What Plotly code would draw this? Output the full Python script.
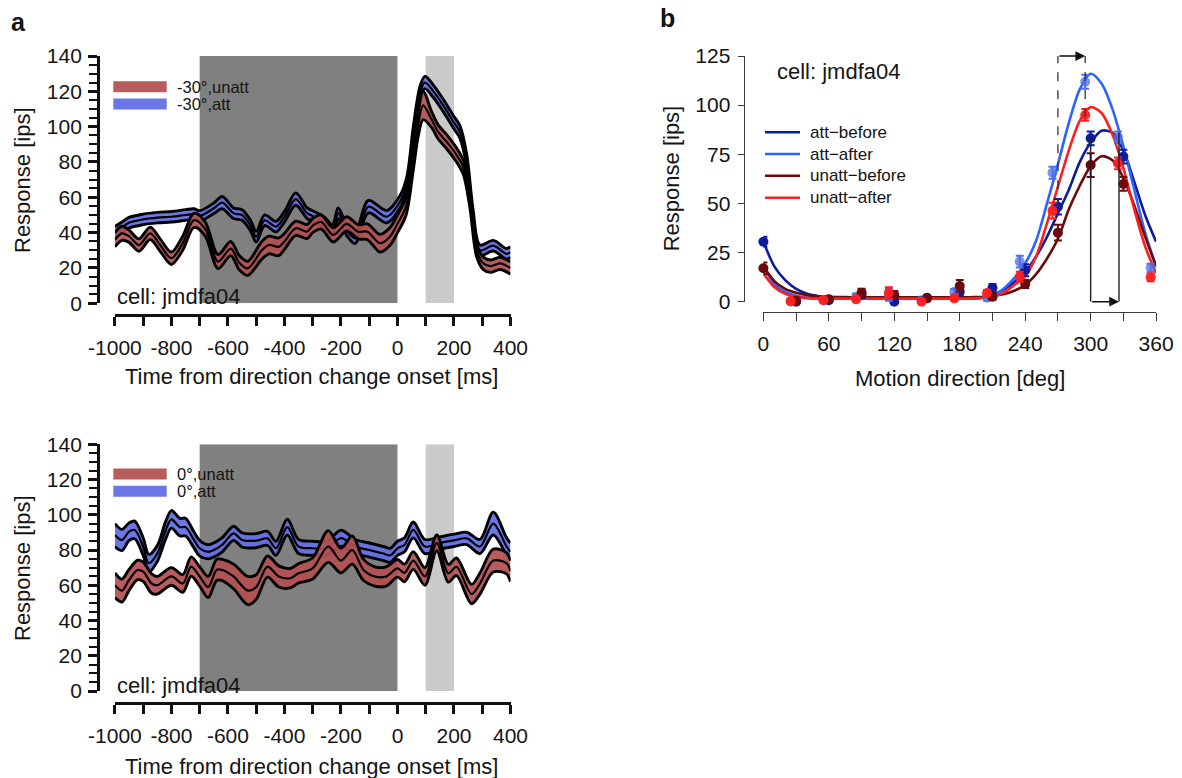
import plotly.graph_objects as go

W, H = 1182, 778
FONT = "Liberation Sans, Arial, Helvetica, sans-serif"
TXT = "#141414"

# ---------------- Panel a (top): -30 deg ----------------
t_att_top = [-1000, -975, -950, -900, -850, -800, -750, -720, -700, -650, -620, -580, -550, -520, -500,
             -470, -430, -400, -360, -320, -300, -260, -230, -210, -180, -150, -103, -38, 9, 33,
             56, 80, 97, 127, 162, 197, 221, 245, 268, 292, 339, 386, 400]
att_top = [40, 43, 45.6, 47.5, 48.5, 49, 50, 50.5, 49.4, 53.8, 57, 51, 50, 44, 37.7,
           47, 43.4, 49, 59, 51, 49.4, 46, 41.5, 51, 41.5, 36.8, 54.7, 49, 57.5, 68,
           96, 119, 125, 120, 112, 103, 97, 81, 49, 30, 32.6, 28, 29]
att_top_sem = [3.5, 3, 3, 3, 3, 3, 3, 3, 3, 3, 3.5, 3, 3, 3, 3,
               3, 3, 3, 3.5, 3, 3, 3, 3, 3, 3, 3, 3.5, 3.5, 3.5, 3.5,
               4, 4, 3.5, 3.5, 3.5, 3.5, 3.5, 3.5, 3.5, 3, 3, 3, 3]

t_unatt_top = [-1000, -975, -950, -915, -875, -840, -800, -760, -720, -680, -635, -590, -560, -530, -480,
               -455, -420, -400, -360, -320, -300, -270, -227, -180, -139, -106, -62, -27, 0, 30,
               56, 74, 91, 121, 144, 174, 209, 233, 256, 280, 304, 330, 363, 400]
unatt_top = [36, 39.6, 38, 33, 39.6, 33, 25.5, 34, 47, 42, 23.6, 31, 23, 19.8, 30,
             33, 32, 35, 42.5, 40.6, 44, 46, 38.7, 45, 40.5, 40.5, 34, 37.7, 45, 54.7,
             81, 102, 112, 104, 97, 91.5, 84, 77, 58.5, 30, 22.6, 21, 22.6, 20]
unatt_top_sem = [4, 4, 3.5, 3.5, 3.5, 3.5, 3.5, 4, 4, 4, 4, 4, 4, 4, 5,
                 5, 5, 4.5, 4, 4, 4, 4, 4, 4, 4, 4.5, 5, 5, 5, 5,
                 5.5, 7, 8, 4.5, 4, 4, 4, 4, 4, 3.5, 3.5, 3.5, 3.5, 3.5]

# ---------------- Panel a (bottom): 0 deg ----------------
t_att_bot = [-1000, -975, -950, -930, -900, -880, -850, -820, -800, -770, -750, -720, -700, -670, -650,
             -620, -580, -550, -500, -460, -430, -390, -350, -300, -250, -200, -150, -100, -50, -25,
             0, 25, 56, 97, 150, 200, 245, 292, 339, 386, 400]
att_bot = [88.5, 85.7, 90.4, 91.4, 82, 72.5, 78, 91.4, 97.4, 93, 93, 85.7, 81, 79, 80,
           83, 89.5, 85.7, 85.3, 86.6, 81, 93, 82, 81, 81, 86.7, 82, 80, 78, 77,
           81, 83, 91.4, 82, 84, 85.5, 86.6, 82, 95, 82, 79]
att_bot_sem = [6.5, 6, 5, 5, 5, 5, 4.5, 5, 5, 5, 5, 4.5, 4.5, 4, 4,
               4, 4, 4, 4, 4, 4, 4.5, 4, 4, 4, 4.5, 4, 4, 4, 4,
               4, 4, 4.5, 4, 3.5, 3.5, 3.5, 4, 6.5, 5, 5]

t_unatt_bot = [-1000, -975, -950, -920, -900, -870, -850, -800, -760, -730, -700, -670, -640, -620, -580,
               -530, -500, -460, -420, -380, -350, -300, -245, -200, -160, -120, -80, -40, 0, 25,
               56, 97, 139, 180, 209, 262, 292, 339, 386, 400]
unatt_bot = [60, 57, 63, 68.7, 67.7, 61, 60, 65, 61, 70.6, 65, 59, 68.7, 68.7, 65,
             57, 59, 70.6, 65, 64, 66.8, 69.6, 82, 74, 80, 68.7, 65, 65, 69.6, 67,
             74, 65, 84, 66.8, 70.5, 55, 61, 74, 72.5, 68]
unatt_bot_sem = [7, 6.5, 6, 5.5, 5.5, 5.5, 5, 5, 5, 5.5, 5.5, 6, 6, 6, 7,
                 8, 7, 6, 6, 5.5, 5.5, 6, 9, 7, 8, 6, 5.5, 5.5, 5, 5,
                 5, 5, 4.5, 5, 5, 5.5, 6, 6.5, 6, 6]

shade_dark = [-700, 0]
shade_light = [100, 200]
time_ticks = [-1000, -800, -600, -400, -200, 0, 200, 400]
rate_ticks = [0, 20, 40, 60, 80, 100, 120, 140]

# ---------------- Panel b: tuning curves ----------------
dirs_before = [0, 30, 60, 90, 120, 150, 180, 210, 240, 270, 300, 330]
dirs_after = [25, 55, 85, 115, 145, 175, 205, 235, 265, 295, 325, 355]
att_before = [30.5, 0, 0.8, 3.4, 0, 2, 5, 7, 16, 48.3, 83.1, 73.8]
att_before_err = [2.5, 1, 1, 1.5, 1.5, 1, 1.5, 2, 3, 4, 3.5, 3.5]
unatt_before = [17, 0.5, 1.2, 4.6, 3.4, 1.7, 8, 2.5, 9, 35.1, 69.5, 59.9]
unatt_before_err = [3, 1, 1, 2, 2, 1, 3, 1.5, 2, 4, 6, 3.5]
att_after = [0, 0.8, 2.5, 3.4, 0.8, 5, 2, 20.4, 65.6, 111.9, 83.6, 17.3]
att_after_err = [1, 1, 1.5, 3, 1, 1.5, 1.5, 3, 3, 3.5, 3, 2]
unatt_after = [0.3, 0.8, 1.2, 4.4, 0, 1.7, 4.4, 12.7, 46.3, 95, 70.4, 12.4]
unatt_after_err = [1, 1, 1, 3, 1, 1, 1.5, 2.5, 4, 3, 3, 2]

dirs_fit = [0, 10, 20, 30, 40, 50, 60, 70, 80, 90, 100, 110, 120, 130, 140, 150, 160, 170, 180,
            190, 200, 210, 220, 230, 240, 250, 260, 270, 280, 290, 300, 310, 320, 330, 340, 350, 360]
att_before_fit = [30.5, 18, 11, 6.5, 4, 2.8, 2, 1.7, 1.5, 1.5, 1.5, 1.5, 1.5, 1.5, 1.5, 1.5, 1.5, 1.5, 1.5,
                  1.6, 2, 3.5, 6, 10, 15, 23, 33, 45, 57, 71, 81, 87, 86, 77, 61, 44, 30.5]
att_after_fit = [18, 9, 5, 3, 2, 1.6, 1.5, 1.5, 1.5, 1.5, 1.5, 1.5, 1.5, 1.5, 1.5, 1.5, 1.5, 1.5, 1.5,
                 1.6, 2, 3, 6.5, 12, 19.5, 31, 50, 70, 91, 108, 116, 111, 98, 79, 57, 35, 18]
unatt_before_fit = [18, 10.5, 6.5, 4.5, 3.3, 2.8, 2.5, 2.4, 2.3, 2.3, 2.3, 2.3, 2.3, 2.3, 2.3, 2.3, 2.3, 2.3, 2.3,
                    2.3, 2.4, 3, 3.8, 5.6, 8.5, 14, 22, 32, 47, 59, 69, 74, 72, 63, 49, 33, 18]
unatt_after_fit = [14.5, 7.5, 4, 2.5, 1.8, 1.6, 1.6, 1.6, 1.6, 1.6, 1.6, 1.6, 1.6, 1.6, 1.6, 1.6, 1.6, 1.6, 1.6,
                   1.7, 1.9, 2.5, 4.5, 8.5, 13, 23, 40, 58.5, 77, 92, 99, 96, 85, 68, 47, 28, 14.5]

fit_names = ["att\u2212before", "att\u2212after", "unatt\u2212before", "unatt\u2212after"]

shift_before = [270, 295]       # dashed lines / top arrow
shift_after = [300, 326]        # solid lines / bottom arrow
dir_ticks = [0, 60, 120, 180, 240, 300, 360]
resp_ticks = [0, 25, 50, 75, 100, 125]

# ---------------- helpers ----------------
def fx(px):
    return px / W


def fy(py):
    return 1 - py / H


fig = go.Figure()

RED_FILL = "rgba(180,80,82,0.93)"
BLUE_FILL = "rgba(98,112,228,0.95)"
EDGE_W = 2.9


def band(t, mean, sem, fill, xa, ya):
    lo = [m - s for m, s in zip(mean, sem)]
    hi = [m + s for m, s in zip(mean, sem)]
    common = dict(x=t, mode="lines", xaxis=xa, yaxis=ya, showlegend=False, hoverinfo="skip")
    fig.add_trace(go.Scatter(y=lo, line=dict(color="black", width=EDGE_W, shape="spline", smoothing=0.9), **common))
    fig.add_trace(go.Scatter(y=hi, fill="tonexty", fillcolor=fill,
                             line=dict(color="black", width=EDGE_W, shape="spline", smoothing=0.9), **common))
    fig.add_trace(go.Scatter(y=mean, line=dict(color="black", width=2.2, shape="spline", smoothing=0.9), **common))


band(t_att_top, att_top, att_top_sem, BLUE_FILL, "x", "y")
band(t_unatt_top, unatt_top, unatt_top_sem, RED_FILL, "x", "y")
band(t_att_bot, att_bot, att_bot_sem, BLUE_FILL, "x2", "y2")
band(t_unatt_bot, unatt_bot, unatt_bot_sem, RED_FILL, "x2", "y2")

# Panel b curves and points
C_AB = "#0c1c9c"
C_AA = "#2c62ff"
C_UB = "#6a0a0a"
C_UA = "#ff1e1e"
fit_colors = [C_AB, C_AA, C_UB, C_UA]

for name, yv, col in zip(fit_names, [att_before_fit, att_after_fit, unatt_before_fit, unatt_after_fit], fit_colors):
    fig.add_trace(go.Scatter(x=dirs_fit, y=yv, mode="lines", name=name, xaxis="x3", yaxis="y3",
                             showlegend=False,
                             line=dict(color=col, width=2.6, shape="spline", smoothing=0.8),
                             hoverinfo="skip", cliponaxis=False))

for xs, yv, ev, col, op in [(dirs_before, att_before, att_before_err, C_AB, 1.0),
                            (dirs_after, att_after, att_after_err, "#4f6fe6", 0.75),
                            (dirs_before, unatt_before, unatt_before_err, C_UB, 1.0),
                            (dirs_after, unatt_after, unatt_after_err, C_UA, 0.95)]:
    fig.add_trace(go.Scatter(x=xs, y=yv, mode="markers", xaxis="x3", yaxis="y3", showlegend=False,
                             marker=dict(color=col, size=10, opacity=op, line=dict(width=0)),
                             error_y=dict(type="data", array=ev, color=col, thickness=2, width=4),
                             hoverinfo="skip", cliponaxis=False))

# ---------------- axes ----------------
BLK = "#111111"
GRY = "#3a3a3a"


def left_x(domain, pos):
    return dict(domain=domain, anchor="free", position=pos, range=[-1000, 400],
                tickmode="array", tickvals=time_ticks, ticktext=[str(v) for v in time_ticks],
                ticks="outside", ticklen=9, tickwidth=2.6, tickcolor=BLK,
                showline=True, linewidth=2.8, linecolor=BLK, showgrid=False, zeroline=False,
                tickfont=dict(size=21, color=TXT, family=FONT), ticklabelstandoff=4,
                minor=dict(tickmode="linear", tick0=-1000, dtick=100, ticks="outside", ticklen=9,
                           tickwidth=2.6, tickcolor=BLK, showgrid=False),
                automargin=False, fixedrange=True)


def left_y(domain, pos):
    return dict(domain=domain, anchor="free", position=pos, range=[0, 140],
                tickmode="array", tickvals=rate_ticks, ticktext=[str(v) for v in rate_ticks],
                ticks="outside", ticklen=9, tickwidth=2.6, tickcolor=BLK,
                showline=True, linewidth=2.8, linecolor=BLK, showgrid=False, zeroline=False,
                tickfont=dict(size=21, color=TXT, family=FONT), ticklabelstandoff=2,
                minor=dict(tickmode="linear", tick0=0, dtick=5, ticks="outside", ticklen=8,
                           tickwidth=2.4, tickcolor=BLK, showgrid=False),
                automargin=False, fixedrange=True)


xdom_left = [fx(114.9), fx(510.5)]
fig.update_layout(
    xaxis=left_x(xdom_left, fy(315)),
    yaxis=left_y([fy(303.3), fy(56)], fx(98)),
    xaxis2=left_x(xdom_left, fy(703.3)),
    yaxis2=left_y([fy(691), fy(444.3)], fx(98)),
    xaxis3=dict(domain=[fx(763.4), fx(1156.1)], anchor="free", position=fy(312.3), range=[0, 360],
                tickmode="array", tickvals=dir_ticks, ticktext=[str(v) for v in dir_ticks],
                ticks="outside", ticklen=8, tickwidth=1.3, tickcolor=GRY,
                showline=True, linewidth=1.3, linecolor=GRY, showgrid=False, zeroline=False,
                tickfont=dict(size=21, color=TXT, family=FONT), ticklabelstandoff=4,
                minor=dict(tickmode="linear", tick0=0, dtick=30, ticks="outside", ticklen=8,
                           tickwidth=1.3, tickcolor=GRY, showgrid=False),
                automargin=False, fixedrange=True),
    yaxis3=dict(domain=[fy(301.7), fy(56)], anchor="free", position=fx(743.7), range=[0, 125],
                tickmode="array", tickvals=resp_ticks, ticktext=[str(v) for v in resp_ticks],
                ticks="outside", ticklen=6, tickwidth=1.3, tickcolor=GRY,
                showline=True, linewidth=1.3, linecolor=GRY, showgrid=False, zeroline=False,
                tickfont=dict(size=21, color=TXT, family=FONT), ticklabelstandoff=3,
                automargin=False, fixedrange=True),
)

# ---------------- shapes ----------------
shapes = []
for xr, yr in [("x", "y"), ("x2", "y2")]:
    shapes.append(dict(type="rect", xref=xr, yref=yr, x0=shade_dark[0], x1=shade_dark[1], y0=0, y1=140,
                       fillcolor="#808080", line=dict(width=0), layer="below"))
    shapes.append(dict(type="rect", xref=xr, yref=yr, x0=shade_light[0], x1=shade_light[1], y0=0, y1=140,
                       fillcolor="#cacaca", line=dict(width=0), layer="below"))

# legend swatches in panel a
for ycen, col in [(86.7, RED_FILL), (104, BLUE_FILL), (474, RED_FILL), (491.3, BLUE_FILL)]:
    shapes.append(dict(type="rect", xref="paper", yref="paper", x0=fx(113.3), x1=fx(166.7),
                       y0=fy(ycen + 5.5), y1=fy(ycen - 5.5), fillcolor=col, line=dict(width=0)))

# legend lines in panel b
legend_rows = [132.3, 154, 175.7, 197.7]
for ycen, col in zip(legend_rows, fit_colors):
    shapes.append(dict(type="line", xref="paper", yref="paper", x0=fx(765), x1=fx(800),
                       y0=fy(ycen), y1=fy(ycen), line=dict(color=col, width=2.6)))

# tuning panel guide lines
shapes.append(dict(type="line", xref="x3", yref="y3", x0=shift_before[0], x1=shift_before[0], y0=48, y1=127.5,
                   line=dict(color="#333333", width=1.3, dash="dash")))
shapes.append(dict(type="line", xref="x3", yref="y3", x0=shift_before[1], x1=shift_before[1], y0=94, y1=127.5,
                   line=dict(color="#333333", width=1.3, dash="dash")))
shapes.append(dict(type="line", xref="x3", yref="y3", x0=shift_after[0], x1=shift_after[0], y0=0, y1=83,
                   line=dict(color="#222222", width=1.4)))
shapes.append(dict(type="line", xref="x3", yref="y3", x0=shift_after[1], x1=shift_after[1], y0=0, y1=86,
                   line=dict(color="#222222", width=1.4)))
fig.update_layout(shapes=shapes)

# ---------------- annotations ----------------
ann = []


def text(x, y, s, size, anchor="center", angle=0, bold=False):
    ann.append(dict(xref="paper", yref="paper", x=fx(x), y=fy(y), text=("<b>%s</b>" % s) if bold else s,
                    showarrow=False, xanchor=anchor, yanchor="middle", textangle=angle,
                    font=dict(size=size, color=TXT, family=FONT)))


text(18.6, 21.7, "a", 25, bold=True)
text(667.7, 18.3, "b", 25, bold=True)

text(22, 180, "Response [ips]", 22, angle=-90)
text(311.5, 376.7, "Time from direction change onset [ms]", 22)
text(115, 296, "cell: jmdfa04", 22, anchor="left")
text(175, 86.7, "-30°,unatt", 16.5, anchor="left")
text(175, 104, "-30°,att", 16.5, anchor="left")

text(22, 568, "Response [ips]", 22, angle=-90)
text(311.5, 766.7, "Time from direction change onset [ms]", 22)
text(115, 685, "cell: jmdfa04", 22, anchor="left")
text(175, 474, "0°,unatt", 16.5, anchor="left")
text(175, 491.3, "0°,att", 16.5, anchor="left")

text(671, 178.3, "Response [ips]", 22, angle=-90)
text(959.7, 378.3, "Motion direction [deg]", 22)
text(774.8, 71.7, "cell: jmdfa04", 22, anchor="left")
for ycen, name in zip(legend_rows, fit_names):
    text(808.3, ycen, name, 17, anchor="left")

# arrows
ann.append(dict(xref="x3", yref="y3", axref="x3", ayref="y3", x=shift_before[1], y=125,
                ax=shift_before[0], ay=125, text="", showarrow=True, arrowhead=2, arrowsize=1.3,
                arrowwidth=1.5, arrowcolor="#111111", standoff=0, startstandoff=0))
ann.append(dict(xref="x3", yref="y3", axref="x3", ayref="y3", x=shift_after[1], y=0,
                ax=shift_after[0], ay=0, text="", showarrow=True, arrowhead=2, arrowsize=1.3,
                arrowwidth=1.5, arrowcolor="#111111", standoff=0, startstandoff=0))
fig.update_layout(annotations=ann)

fig.update_layout(
    width=W, height=H, margin=dict(l=0, r=0, t=0, b=0, pad=0),
    paper_bgcolor="white", plot_bgcolor="white", hovermode=False,
    font=dict(family=FONT, color=TXT),
    showlegend=False,
)

fig.write_html("out.html")
